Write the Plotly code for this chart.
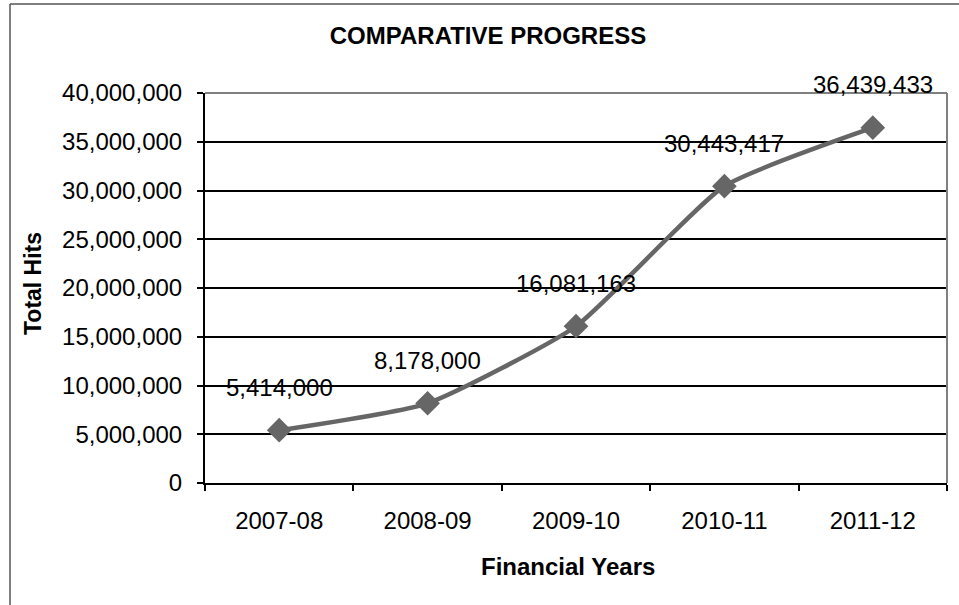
import plotly.graph_objects as go

years = ["2007-08", "2008-09", "2009-10", "2010-11", "2011-12"]
total_hits = [5414000, 8178000, 16081163, 30443417, 36439433]

FONT = "Liberation Sans, Arial, sans-serif"
FS = 24

W, H = 959, 605
L, T = 205, 93            # plot area top-left on the page
PW, PH = 742, 390         # plot area size
R = W - L - PW
B = H - T - PH

fig = go.Figure()
fig.add_trace(go.Scatter(
    x=years, y=total_hits, mode="lines+markers",
    line=dict(color="#666666", width=4.5, shape="spline", smoothing=0.5),
    marker=dict(symbol="diamond", size=19, color="#666666"),
    hoverinfo="skip", showlegend=False,
))

annotations = []
for yr, v in zip(years, total_hits):
    annotations.append(dict(x=yr, y=v, xref="x", yref="y", text=f"{v:,}",
                            showarrow=False, yshift=43,
                            font=dict(family=FONT, size=FS, color="#000000")))
annotations.append(dict(x=(568 - L) / PW, y=-(566 - (T + PH)) / PH, xref="paper", yref="paper",
                        text="<b>Financial Years</b>", showarrow=False,
                        xanchor="center", yanchor="middle",
                        font=dict(family=FONT, size=FS, color="#000000")))
annotations.append(dict(x=-(L - 33) / PW, y=((T + PH) - 284) / PH, xref="paper", yref="paper",
                        text="<b>Total Hits</b>", showarrow=False, textangle=-90,
                        xanchor="center", yanchor="middle",
                        font=dict(family=FONT, size=FS - 1, color="#000000")))

shapes = [
    # outer chart frame (left and top edges visible)
    dict(type="line", xref="paper", yref="paper",
         x0=-(L - 10) / PW, x1=-(L - 10) / PW, y0=-0.4, y1=1 + (T - 4) / PH,
         line=dict(color="#555555", width=1.5), layer="above"),
    dict(type="line", xref="paper", yref="paper",
         x0=-(L - 10) / PW, x1=1.05, y0=1 + (T - 4) / PH, y1=1 + (T - 4) / PH,
         line=dict(color="#555555", width=1.5), layer="above"),
    # plot-area top and right borders (gray)
    dict(type="line", xref="paper", yref="paper", x0=0, x1=1, y0=1, y1=1,
         line=dict(color="#808080", width=2), layer="above"),
    dict(type="line", xref="paper", yref="paper", x0=1, x1=1, y0=0, y1=1,
         line=dict(color="#808080", width=2), layer="above"),
]

fig.update_layout(
    width=W, height=H,
    margin=dict(l=L, r=R, t=T, b=B),
    paper_bgcolor="white", plot_bgcolor="white",
    font=dict(family=FONT, size=FS, color="#000000"),
    title=dict(text="<b>COMPARATIVE PROGRESS</b>", x=488 / W, xanchor="center",
               y=1 - 36 / H, yanchor="middle", xref="container", yref="container",
               font=dict(family=FONT, size=FS, color="#000000")),
    xaxis=dict(type="category", range=[-0.5, 4.5], tickson="boundaries",
               ticks="outside", ticklen=6, tickwidth=2, tickcolor="#000000",
               showline=True, linecolor="#000000", linewidth=2,
               showgrid=False, zeroline=False, ticklabelstandoff=15,
               tickfont=dict(family=FONT, size=FS, color="#000000")),
    yaxis=dict(range=[0, 40000000], dtick=5000000, tickformat=",d",
               ticks="outside", ticklen=6, tickwidth=2, tickcolor="#000000",
               showline=True, linecolor="#000000", linewidth=2,
               showgrid=True, gridcolor="#000000", gridwidth=2, zeroline=False,
               ticklabelstandoff=10,
               tickfont=dict(family=FONT, size=FS, color="#000000")),
    annotations=annotations,
    shapes=shapes,
)

fig.write_html("out.html", config={"displayModeBar": False},
               post_script="document.body.style.margin='0';document.body.style.overflow='hidden';")
